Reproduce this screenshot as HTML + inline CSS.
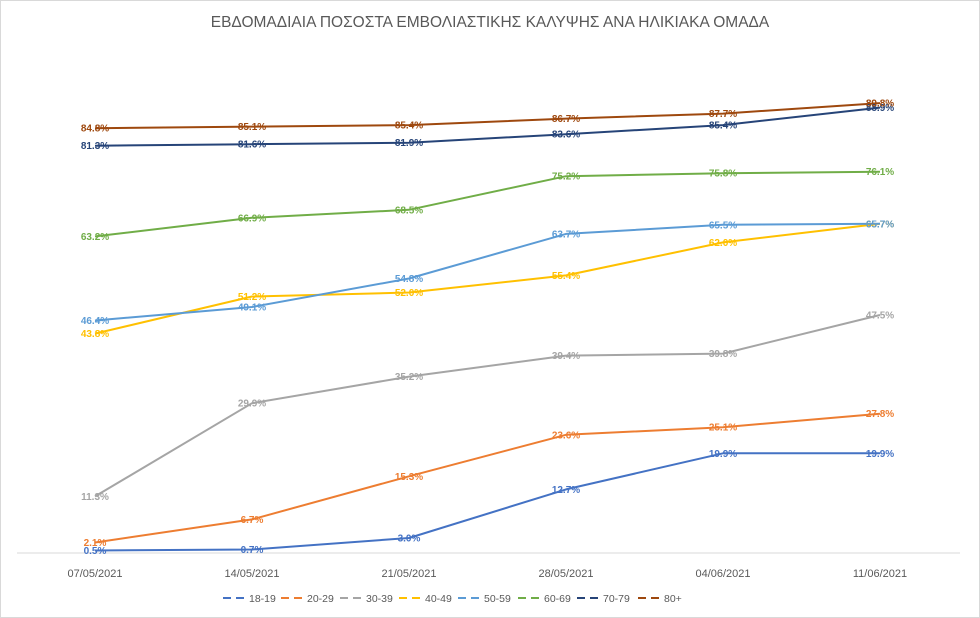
<!DOCTYPE html>
<html><head><meta charset="utf-8"><style>
body{margin:0;background:#fff;}
svg{display:block;font-family:"Liberation Sans","DejaVu Sans",sans-serif;}
</style></head><body>
<svg id="c" width="980" height="618" viewBox="0 0 980 618" xmlns="http://www.w3.org/2000/svg">
<rect x="0.5" y="0.5" width="979" height="617" fill="#fff" stroke="#d9d9d9"/>
<text x="490" y="27" text-anchor="middle" font-size="15.5" fill="#595959">ΕΒΔΟΜΑΔΙΑΙΑ ΠΟΣΟΣΤΑ ΕΜΒΟΛΙΑΣΤΙΚΗΣ ΚΑΛΥΨΗΣ ΑΝΑ ΗΛΙΚΙΑΚΑ ΟΜΑΔΑ</text>
<line x1="17" y1="553" x2="960" y2="553" stroke="#d9d9d9" stroke-width="1"/>
<g id="g"></g>
</svg>
<script>
var data=[
["18-19","#4472C4",[0.5,0.7,3.0,12.7,19.9,19.9]],
["20-29","#ED7D31",[2.1,6.7,15.3,23.6,25.1,27.8]],
["30-39","#A5A5A5",[11.3,29.9,35.2,39.4,39.8,47.5]],
["40-49","#FFC000",[43.8,51.2,52.0,55.4,62.0,65.7]],
["50-59","#5B9BD5",[46.4,49.1,54.8,63.7,65.5,65.7]],
["60-69","#70AD47",[63.2,66.9,68.5,75.2,75.8,76.1]],
["70-79","#264478",[81.3,81.6,81.9,83.6,85.4,88.9]],
["80+","#9E480E",[84.8,85.1,85.4,86.7,87.7,89.8]]];
var dates=["07/05/2021","14/05/2021","21/05/2021","28/05/2021","04/06/2021","11/06/2021"];
var X=function(i){return 95+157*i;},Y=function(v){return 553-5.01*v;};
var s="";
dates.forEach(function(d,i){s+='<text x="'+X(i)+'" y="577" text-anchor="middle" font-size="11" fill="#595959">'+d+'</text>';});
data.forEach(function(d){
 var p=d[2].map(function(v,i){return X(i)+","+Y(v).toFixed(1);}).join(" ");
 s+='<polyline points="'+p+'" fill="none" stroke="'+d[1]+'" stroke-width="2" stroke-linejoin="round"/>';
});
data.forEach(function(d){
 d[2].forEach(function(v,i){s+='<text x="'+X(i)+'" y="'+(Y(v)+3.5).toFixed(1)+'" text-anchor="middle" font-size="10" font-weight="bold" fill="'+d[1]+'">'+v.toFixed(1)+'%</text>';});
});
var lx=[223,281,340,399,458,518,577,638];
data.forEach(function(d,i){
 s+='<line x1="'+lx[i]+'" y1="598" x2="'+(lx[i]+24)+'" y2="598" stroke="'+d[1]+'" stroke-width="2" stroke-dasharray="8,5"/>';
 s+='<text x="'+(lx[i]+26)+'" y="602" font-size="10.5" fill="#595959">'+d[0]+'</text>';
});
document.getElementById("g").innerHTML=s;
</script>
</body></html>
